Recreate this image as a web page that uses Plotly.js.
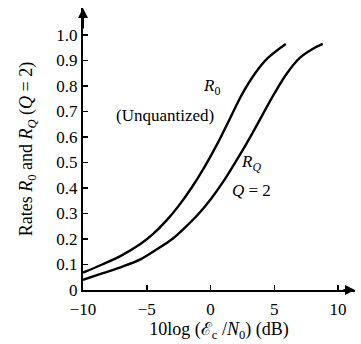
<!DOCTYPE html>
<html><head><meta charset="utf-8">
<script src="https://cdn.plot.ly/plotly-3.0.1.min.js"></script>
<style>html,body{margin:0;padding:0;background:#fff}#c{width:361px;height:344px}</style>
</head><body><div id="c"></div>
<script>
var snrR0 = [-10, -8.5, -7, -5.5, -4.5, -3.5, -2.5, -1.5, -0.5, 0.5, 1.5, 2.5, 3.5, 4.5, 5.9];
var rateR0 = [0.068, 0.10, 0.135, 0.18, 0.22, 0.27, 0.33, 0.40, 0.48, 0.57, 0.67, 0.77, 0.85, 0.91, 0.965];
var snrRQ = [-10, -8.5, -7, -5.5, -4.2, -3, -2, -1, 0, 1, 2, 3, 4, 5, 6, 7, 8, 8.8];
var rateRQ = [0.04, 0.065, 0.09, 0.12, 0.16, 0.20, 0.245, 0.295, 0.355, 0.425, 0.505, 0.59, 0.68, 0.77, 0.85, 0.91, 0.945, 0.965];
var xTickVals = [-10, -5, 0, 5, 10];
var xTickText = ['\u221210', '\u22125', '0', '5', '10'];
var yTickVals = [0, 0.1, 0.2, 0.3, 0.4, 0.5, 0.6, 0.7, 0.8, 0.9, 1.0];
var yTickText = ['0', '0.1', '0.2', '0.3', '0.4', '0.5', '0.6', '0.7', '0.8', '0.9', '1.0'];

var F = 'Liberation Serif, Times New Roman, serif';
var traces = [
  {x: snrR0, y: rateR0, mode: 'lines', line: {color: '#000', width: 2.4, shape: 'spline', smoothing: 1}, hoverinfo: 'none'},
  {x: snrRQ, y: rateRQ, mode: 'lines', line: {color: '#000', width: 2.4, shape: 'spline', smoothing: 1}, hoverinfo: 'none'}
];
var layout = {
  width: 361, height: 344,
  margin: {l: 83, r: 6, t: 8, b: 54},
  showlegend: false,
  paper_bgcolor: '#fff', plot_bgcolor: '#fff',
  font: {family: F, size: 17, color: '#000'},
  xaxis: {range: [-10, 11.33], showgrid: false, zeroline: false, showline: true, linewidth: 2, linecolor: '#000',
    ticks: 'inside', ticklen: 5, tickwidth: 1.5, tickcolor: '#000', tickvals: xTickVals, ticktext: xTickText,
    ticklabelstandoff: 3,
    tickfont: {family: F, size: 17, color: '#000'},
    title: {text: '10log (\u2130<sub>c</sub> /<i>N</i><sub>0</sub>) (dB)', font: {family: F, size: 18, color: '#000'}, standoff: 4}},
  yaxis: {range: [0, 1.106], showgrid: false, zeroline: false, showline: true, linewidth: 2, linecolor: '#000',
    ticks: 'inside', ticklen: 5, tickwidth: 1.5, tickcolor: '#000', tickvals: yTickVals, ticktext: yTickText,
    tickfont: {family: F, size: 17, color: '#000'},
    title: {text: 'Rates <i>R</i><sub>0</sub> and <i>R<sub>Q</sub></i> (<i>Q</i> = 2)', font: {family: F, size: 18, color: '#000'}, standoff: 19}},
  annotations: [
    {x: 11.33, y: 0, ax: 10.3, ay: 0, axref: 'x', ayref: 'y', xref: 'x', yref: 'y', text: '', showarrow: true, arrowhead: 2, arrowsize: 1, arrowwidth: 2, arrowcolor: '#000'},
    {x: -10, y: 1.106, ax: -10, ay: 1.02, axref: 'x', ayref: 'y', xref: 'x', yref: 'y', text: '', showarrow: true, arrowhead: 2, arrowsize: 1, arrowwidth: 2, arrowcolor: '#000'},
    {x: 0.1, y: 0.795, xref: 'x', yref: 'y', text: '<i>R</i><sub>0</sub>', showarrow: false, font: {family: F, size: 17, color: '#000'}},
    {x: -3.6, y: 0.685, xref: 'x', yref: 'y', text: '(Unquantized)', showarrow: false, font: {family: F, size: 17, color: '#000'}},
    {x: 3.2, y: 0.5, xref: 'x', yref: 'y', text: '<i>R<sub>Q</sub></i>', showarrow: false, font: {family: F, size: 17, color: '#000'}},
    {x: 3.2, y: 0.39, xref: 'x', yref: 'y', text: '<i>Q</i> = 2', showarrow: false, font: {family: F, size: 17, color: '#000'}}
  ]
};
Plotly.newPlot('c', traces, layout, {displayModeBar: false, staticPlot: true});
</script></body></html>
